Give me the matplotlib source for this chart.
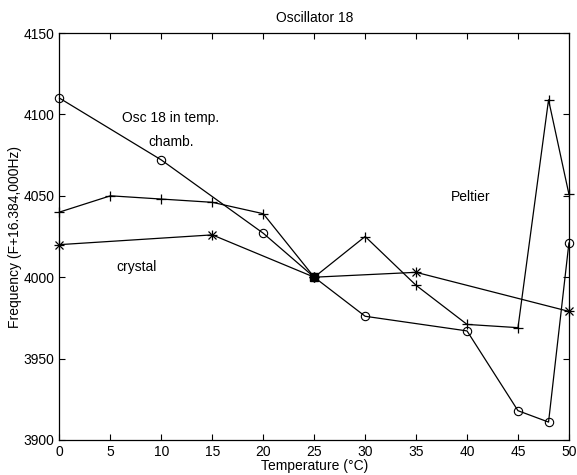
import numpy as np
import matplotlib.pyplot as plt

plt.rcParams['font.family'] = ['Liberation Sans', 'DejaVu Sans']

# temperature chamber run (circles)
t_chamb = [0, 10, 20, 25, 30, 40, 45, 48, 50]
f_chamb = [4110, 4072, 4027, 4000, 3976, 3967, 3918, 3911, 4021]

# peltier run (plus)
t_pelt = [0, 5, 10, 15, 20, 25, 30, 35, 40, 45, 48, 50]
f_pelt = [4040, 4050, 4048, 4046, 4039, 4000, 4025, 3995, 3971, 3969, 4109, 4051]

# crystal heater run (stars)
t_cryst = [0, 15, 25, 35, 50]
f_cryst = [4020, 4026, 4000, 4003, 3979]

# common reference point
t_ref = [25]
f_ref = [4000]

fig = plt.figure(figsize=(5.77, 4.75), dpi=100)
ax = fig.add_axes([0.1031, 0.0737, 0.8829, 0.8568])

ax.plot(t_chamb, f_chamb, 'k-o', lw=0.9, ms=6, mfc='none', mew=0.8, clip_on=False)
ax.plot(t_pelt, f_pelt, 'k-+', lw=0.9, ms=7, mew=0.9, clip_on=False)
ax.plot(t_cryst, f_cryst, 'k-x', lw=0.9, ms=6, mew=0.9, clip_on=False)
ax.plot(t_cryst, f_cryst, 'k+', ms=7, mew=0.9, clip_on=False)
ax.plot(t_ref, f_ref, 'ks', ms=6, zorder=5)

ax.set_xlim(0, 50)
ax.set_ylim(3900, 4150)
ax.set_xticks(np.arange(0, 51, 5))
ax.set_yticks(np.arange(3900, 4151, 50))
ax.tick_params(direction='in', top=True, right=True, length=4,
               labelsize=10, width=0.8)
for s in ax.spines.values():
    s.set_linewidth(0.9)

ax.set_title('Oscillator 18', fontsize=10, pad=8)
ax.set_xlabel('Temperature (\u00b0C)', fontsize=10, labelpad=0)
ax.set_ylabel('Frequency (F+16.384,000Hz)', fontsize=10, labelpad=1)

ax.text(6.1, 4098, 'Osc 18 in temp.', fontsize=10, va='center')
ax.text(8.7, 4083, 'chamb.', fontsize=10, va='center')
ax.text(5.6, 4006, 'crystal', fontsize=10, va='center')
ax.text(38.4, 4049, 'Peltier', fontsize=10, va='center')

fig.savefig('out.png', dpi=100)
